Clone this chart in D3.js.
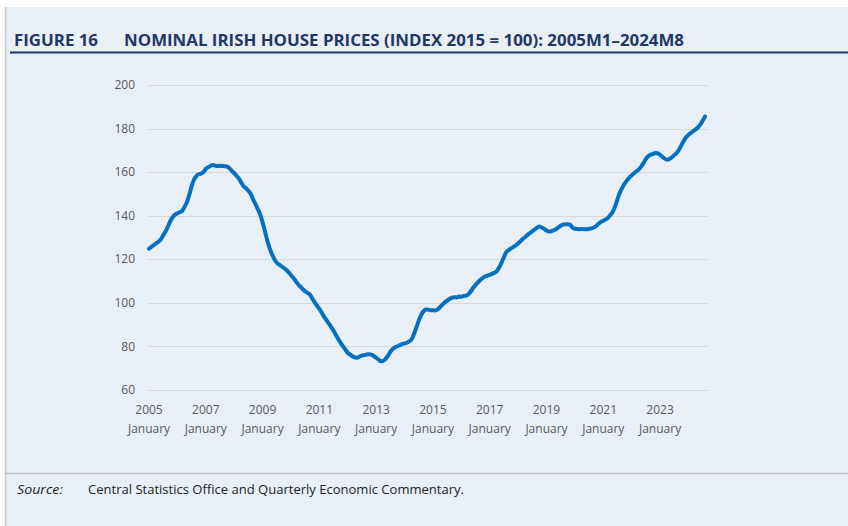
<!DOCTYPE html>
<html>
  <head>
    <meta charset="utf-8" />
    <title>Figure 16</title>
    <script src="https://cdn.jsdelivr.net/npm/d3@7"></script>
    <style>
      body {
        margin: 0;
        padding: 0;
        background: #fff;
      }
      svg text {
        font-family: "Open Sans", "Liberation Sans", sans-serif;
      }
      .grid line {
        stroke: #d9d9d9;
        stroke-width: 1;
      }
      .tick-label {
        fill: #595959;
        font-size: 12px;
      }
    </style>
  </head>
  <body>
    <script>
      // monthly index, 2005M1 .. 2024M8 (2015 = 100)
      var index = [
        124.9, 125.7, 126.5, 127.3, 128.0, 129.2, 131.0, 132.8, 135.0, 137.5, 139.3, 140.5, // 2005
        141.1, 141.6, 142.2, 144.0, 146.2, 149.5, 153.5, 156.5, 158.2, 159.0, 159.3, 160.0, // 2006
        161.5, 162.3, 162.9, 163.3, 163.0, 162.8, 162.9, 162.8, 162.7, 162.5, 161.8, 160.6, // 2007
        159.5, 158.3, 157.0, 155.2, 153.5, 152.6, 151.5, 150.0, 147.5, 145.3, 143.0, 140.5, // 2008
        137.0, 133.0, 128.5, 125.0, 122.3, 120.0, 118.4, 117.6, 116.8, 116.0, 115.2, 114.0, // 2009
        112.7, 111.5, 110.0, 108.5, 107.4, 106.3, 105.3, 104.6, 103.8, 102.0, 100.3, 98.7,  // 2010
        97.2, 95.5, 93.6, 92.1, 90.5, 88.9, 87.2, 85.2, 83.4, 81.6, 80.0, 78.6,             // 2011
        77.0, 76.3, 75.5, 75.0, 74.8, 75.3, 75.8, 76.0, 76.3, 76.4, 76.2, 75.6,             // 2012
        74.8, 74.0, 73.2, 73.4, 74.3, 75.8, 77.5, 78.8, 79.6, 80.1, 80.6, 81.1,             // 2013
        81.4, 81.7, 82.3, 83.3, 85.7, 88.7, 91.8, 94.4, 96.1, 97.0, 96.9, 96.6,             // 2014
        96.6, 96.5, 97.0, 98.0, 99.2, 100.2, 101.0, 101.8, 102.3, 102.6, 102.5, 102.9,      // 2015
        102.8, 103.2, 103.3, 104.0, 105.2, 106.9, 108.2, 109.4, 110.5, 111.4, 112.1, 112.5, // 2016
        112.9, 113.3, 113.8, 114.6, 116.2, 118.4, 121.0, 123.3, 124.2, 125.0, 125.6, 126.4, // 2017
        127.3, 128.3, 129.3, 130.2, 131.2, 132.0, 132.9, 133.7, 134.5, 135.0, 134.6, 134.0, // 2018
        133.2, 132.8, 132.9, 133.3, 133.8, 134.6, 135.4, 135.9, 136.1, 136.1, 135.8, 134.6, // 2019
        134.0, 133.9, 133.8, 133.9, 133.8, 133.8, 134.0, 134.2, 134.6, 135.3, 136.3, 137.2, // 2020
        137.7, 138.3, 139.1, 140.3, 141.8, 144.3, 147.5, 150.6, 152.8, 154.7, 156.2, 157.5, // 2021
        158.5, 159.5, 160.4, 161.2, 162.5, 164.2, 166.0, 167.3, 168.0, 168.3, 168.8, 168.7, // 2022
        168.0, 167.0, 166.2, 165.7, 166.0, 166.8, 167.8, 168.8, 170.3, 172.3, 174.3, 176.0, // 2023
        177.1, 178.0, 178.8, 179.6, 180.5, 181.8, 183.6, 185.5                              // 2024
      ];

      var tickYears = [2005, 2007, 2009, 2011, 2013, 2015, 2017, 2019, 2021, 2023];
      var tickMonth = "January";
      var yTicks = [60, 80, 100, 120, 140, 160, 180, 200];

      var title = "NOMINAL IRISH HOUSE PRICES (INDEX 2015 = 100): 2005M1\u20132024M8";
      var source = "Central Statistics Office and Quarterly Economic Commentary.";

      var width = 848, height = 526;

      var svg = d3.select("body").append("svg")
          .attr("width", width)
          .attr("height", height);

      // panel background
      svg.append("rect")
          .attr("x", 5).attr("y", 7)
          .attr("width", width - 5).attr("height", height - 7)
          .attr("fill", "#e9eff7");

      svg.append("line")
          .attr("x1", 5.5).attr("x2", 5.5)
          .attr("y1", 7).attr("y2", height)
          .attr("stroke", "#c8c8c8")
          .attr("stroke-width", 1.5);

      // title
      svg.append("text")
          .attr("x", 14).attr("y", 45.5)
          .attr("fill", "#1f3864")
          .style("font-size", "15.5px")
          .style("font-weight", "bold")
          .attr("textLength", 84)
          .attr("lengthAdjust", "spacingAndGlyphs")
          .text("FIGURE 16");

      svg.append("text")
          .attr("x", 124).attr("y", 45.5)
          .attr("fill", "#1f3864")
          .style("font-size", "15.5px")
          .style("font-weight", "bold")
          .attr("textLength", 560)
          .attr("lengthAdjust", "spacingAndGlyphs")
          .text(title);

      svg.append("line")
          .attr("x1", 10).attr("x2", width)
          .attr("y1", 52.5).attr("y2", 52.5)
          .attr("stroke", "#1f3864")
          .attr("stroke-width", 2);

      var x = d3.scaleLinear()
          .domain([0, index.length - 1])
          .range([149, 705]);

      var y = d3.scaleLinear()
          .domain([60, 200])
          .range([390, 85]);

      // gridlines
      svg.append("g")
          .attr("class", "grid")
          .selectAll("line")
          .data(yTicks)
        .enter().append("line")
          .attr("x1", 147).attr("x2", 708)
          .attr("y1", function(d) { return Math.round(y(d)) + 0.5; })
          .attr("y2", function(d) { return Math.round(y(d)) + 0.5; });

      svg.append("g")
          .selectAll("text")
          .data(yTicks)
        .enter().append("text")
          .attr("class", "tick-label")
          .attr("x", 135)
          .attr("y", function(d) { return y(d); })
          .attr("dy", "0.35em")
          .attr("text-anchor", "end")
          .text(function(d) { return d; });

      var xLabels = svg.append("g")
          .selectAll("g")
          .data(tickYears)
        .enter().append("g")
          .attr("transform", function(d) {
            return "translate(" + x((d - 2005) * 12) + ",0)";
          });

      xLabels.append("text")
          .attr("class", "tick-label")
          .attr("y", 410).attr("dy", "0.35em")
          .attr("text-anchor", "middle")
          .text(function(d) { return d; });

      xLabels.append("text")
          .attr("class", "tick-label")
          .attr("y", 429).attr("dy", "0.35em")
          .attr("text-anchor", "middle")
          .text(tickMonth);

      var line = d3.line()
          .curve(d3.curveMonotoneX)
          .x(function(d, i) { return x(i); })
          .y(function(d) { return y(d); });

      svg.append("path")
          .datum(index)
          .attr("d", line)
          .attr("fill", "none")
          .attr("stroke", "#0570c0")
          .attr("stroke-width", 4)
          .attr("stroke-linejoin", "round")
          .attr("stroke-linecap", "round");

      // source note
      svg.append("line")
          .attr("x1", 5).attr("x2", width)
          .attr("y1", 473.5).attr("y2", 473.5)
          .attr("stroke", "#bfbfbf")
          .attr("stroke-width", 1.5);

      svg.append("text")
          .attr("x", 17).attr("y", 494)
          .attr("fill", "#222")
          .style("font-size", "12px")
          .style("font-style", "italic")
          .attr("textLength", 46)
          .attr("lengthAdjust", "spacingAndGlyphs")
          .text("Source:");

      svg.append("text")
          .attr("x", 88).attr("y", 494)
          .attr("fill", "#222")
          .style("font-size", "12px")
          .attr("textLength", 376)
          .attr("lengthAdjust", "spacingAndGlyphs")
          .text(source);
    </script>
  </body>
</html>
